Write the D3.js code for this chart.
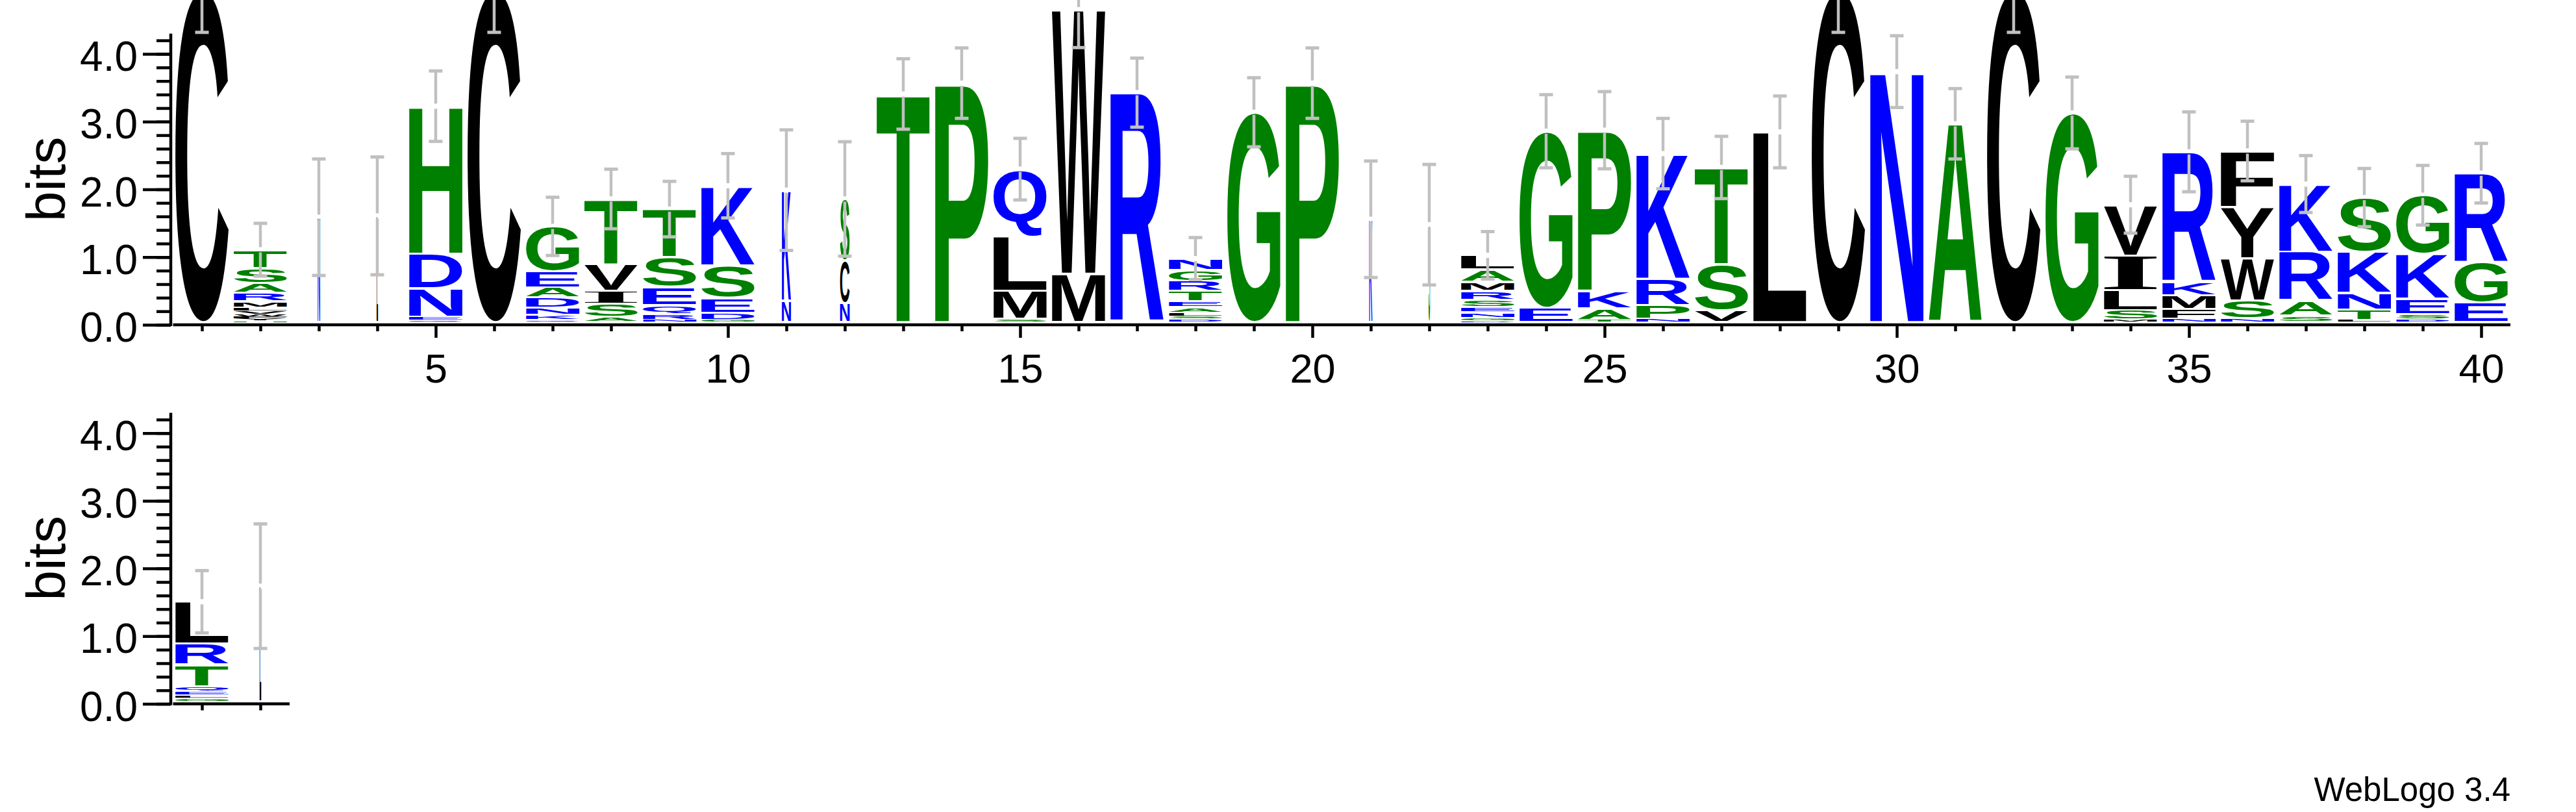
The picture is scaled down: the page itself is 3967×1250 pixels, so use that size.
<!DOCTYPE html>
<html><head><meta charset="utf-8">
<script src="https://cdn.jsdelivr.net/npm/d3@7"></script>
<style>html,body{margin:0;padding:0;background:#fff;} svg{display:block;}</style>
</head><body>
<svg id="chart" width="3967" height="1250"></svg>
<script>
// ---------------- data ----------------
const positions = d3.range(1, 43);
// stacks: letters from bottom to top, heights in bits
const stacks = [
  [["C",4.90]],
  [["H",0.02],["Y",0.03],["F",0.03],["W",0.03],["V",0.05],["L",0.055],["M",0.09],["R",0.125],["A",0.145],["S",0.225],["T",0.27]],
  [["N",1.55]],
  [["L",1.57]],
  [["Q",0.03],["E",0.05],["N",0.42],["D",0.51],["H",2.18]],
  [["C",4.90]],
  [["Q",0.03],["K",0.08],["N",0.105],["D",0.15],["A",0.15],["E",0.24],["G",0.66]],
  [["A",0.08],["S",0.19],["I",0.19],["V",0.40],["T",0.96]],
  [["N",0.03],["R",0.09],["Q",0.13],["E",0.27],["S",0.44],["T",0.71]],
  [["G",0.035],["D",0.105],["E",0.22],["S",0.48],["K",1.175]],
  [["N",0.32],["K",1.63]],
  [["N",0.28],["C",0.63],["S",0.91]],
  [["T",3.37]],
  [["P",3.53]],
  [["S",0.05],["M",0.41],["L",0.80],["Q",1.00]],
  [["M",0.715],["W",3.90]],
  [["R",3.39]],
  [["D",0.045],["S",0.045],["L",0.05],["A",0.08],["E",0.09],["T",0.15],["R",0.15],["G",0.16],["N",0.17]],
  [["G",3.10]],
  [["P",3.53]],
  [["K",1.52]],
  [["S",1.44]],
  [["D",0.02],["G",0.04],["N",0.086],["E",0.077],["S",0.11],["R",0.135],["M",0.13],["A",0.18],["L",0.21]],
  [["E",0.21],["G",2.61]],
  [["T",0.035],["A",0.17],["K",0.26],["P",2.37]],
  [["N",0.05],["P",0.20],["R",0.39],["K",1.85]],
  [["V",0.18],["S",0.68],["T",1.425]],
  [["L",2.81]],
  [["C",4.90]],
  [["N",3.70]],
  [["A",2.93]],
  [["C",4.90]],
  [["G",3.09]],
  [["M",0.035],["S",0.14],["L",0.30],["I",0.51],["V",0.75]],
  [["N",0.053],["F",0.14],["M",0.206],["K",0.197],["R",1.92]],
  [["N",0.058],["S",0.265],["W",0.62],["Y",0.76],["F",0.825]],
  [["S",0.10],["A",0.22],["R",0.72],["K",1.00]],
  [["L",0.035],["T",0.15],["N",0.245],["K",0.61],["S",0.80]],
  [["D",0.038],["S",0.077],["E",0.23],["K",0.66],["G",0.87]],
  [["E",0.29],["G",0.595],["R",1.315]],
  [["G",0.045],["L",0.045],["E",0.05],["Q",0.08],["T",0.32],["R",0.31],["L",0.62]],
  [["L",1.70]]
];
// half-length of error bar (bits), centered on stack top
const errorBits = [0.62,0.39,0.86,0.87,0.52,0.62,0.43,0.44,0.41,0.475,
                   0.89,0.845,0.52,0.52,0.455,0.56,0.51,0.31,0.51,0.52,
                   0.86,0.89,0.35,0.54,0.57,0.52,0.46,0.53,0.62,0.53,
                   0.52,0.62,0.53,0.42,0.59,0.44,0.42,0.43,0.44,0.44,
                   0.46,0.92];
// fraction of non-gap symbols (stack width scaling)
const widthFraction = [1,1,0.045,0.025,1,1,1,1,1,1,
                       0.17,0.18,1,1,1,1,1,1,1,1,
                       0.06,0.03,1,1,1,1,1,1,1,1,
                       1,1,1,1,1,1,1,1,1,1,
                       1,0.03];
const yMajorTicks = [0,1,2,3,4];
const yMinorTicks = d3.range(0, 4.21, 0.2);
const xTickLabels = [5,10,15,20,25,30,35,40];
const hydrophilic = "RKDENQ", neutral = "SGHTAP", hydrophobic = "YVMCLFIW";
const footer = "WebLogo 3.4";

// ---------------- layout ----------------
const colorOf = c => hydrophilic.includes(c) ? "#0000ff" : neutral.includes(c) ? "#008000" : "#000000";
const svg = d3.select("#chart");
svg.append("rect").attr("width",3967).attr("height",1250).attr("fill","#fff");

const panels = [
  {first:1,  last:40, y0:500,    y4:83},
  {first:41, last:42, y0:1083.5, y4:666.7}
];
const stackW = 82, axisX = 263, font = '"Liberation Sans", Arial, Helvetica, sans-serif';

const ctx = document.createElement("canvas").getContext("2d");
const inkCache = {};
function ink(ch) {
  if (inkCache[ch]) return inkCache[ch];
  const fam = ch === "I" ? '"Liberation Serif", serif' : font;
  ctx.font = `bold 200px ${fam}`;
  const m = ctx.measureText(ch);
  return inkCache[ch] = {fam, L:m.actualBoundingBoxLeft, R:m.actualBoundingBoxRight,
                         A:m.actualBoundingBoxAscent, D:m.actualBoundingBoxDescent};
}

panels.forEach(p => {
  const x = d3.scaleLinear().domain([p.first, p.first + 39]).range([311, 3821]);
  const y = d3.scaleLinear().domain([0, 4]).range([p.y0, p.y4]);
  const g = svg.append("g");
  const base = y(0) - 4;

  // letters
  const idx = d3.range(p.first, p.last + 1);
  idx.forEach(pos => {
    const i = pos - 1;
    const w = stackW * widthFraction[i];
    const x0 = x(pos) - w / 2;
    let cum = 0;
    stacks[i].forEach(([ch, bits]) => {
      const yb = base - (y(0) - y(cum));
      const yt = base - (y(0) - y(cum + bits));
      cum += bits;
      const h = yb - yt;
      const gap = Math.min(1.7, h * 0.2);
      const bh = h - 2 * gap;
      if (bh <= 0) return;
      const m = ink(ch);
      const sx = w / (m.L + m.R), sy = bh / (m.A + m.D);
      g.append("text")
        .attr("x", 0).attr("y", 0)
        .attr("font-family", m.fam).attr("font-weight", "bold").attr("font-size", 200)
        .attr("fill", colorOf(ch))
        .attr("transform", `translate(${x0},${yt + gap}) scale(${sx},${sy}) translate(${m.L},${m.A})`)
        .text(ch);
    });
    // error bar
    const top = base - (y(0) - y(cum));
    const e = y(0) - y(errorBits[i]);
    const cx = x(pos);
    const eg = g.append("g").attr("stroke", "#c0c0c0");
    eg.append("line").attr("x1",cx).attr("x2",cx).attr("y1",top - e).attr("y2",top - 4).attr("stroke-width",4.5);
    eg.append("line").attr("x1",cx).attr("x2",cx).attr("y1",top + 4).attr("y2",top + e).attr("stroke-width",4.5);
    [top - e, top + e].forEach(yy => eg.append("line").attr("x1",cx - 10.5).attr("x2",cx + 10.5)
        .attr("y1",yy).attr("y2",yy).attr("stroke-width",5));
  });

  // y axis
  const ya = svg.append("g").attr("transform", `translate(${axisX},0)`);
  ya.call(d3.axisLeft(y).tickValues(yMinorTicks).tickSize(22).tickFormat(""));
  ya.call(g2 => g2.select(".domain").remove());
  const yb2 = svg.append("g").attr("transform", `translate(${axisX},0)`);
  yb2.call(d3.axisLeft(y).tickValues(yMajorTicks).tickSize(43).tickPadding(8).tickFormat(d3.format(".1f")));
  yb2.select(".domain").remove();
  svg.selectAll("g.tick line").attr("stroke-width", 4.5).attr("stroke", "#000");
  yb2.selectAll("text").attr("font-family", font).attr("font-size", 64).attr("dy", "0.4em").attr("fill","#000");
  svg.append("line").attr("x1", axisX).attr("x2", axisX).attr("y1", y(4.3)).attr("y2", y(0) + 2)
     .attr("stroke", "#000").attr("stroke-width", 4.5);
  svg.append("text").attr("transform", `translate(100,${(y(0) + y(4.3)) / 2}) rotate(-90)`)
     .attr("text-anchor", "middle").attr("font-family", font).attr("font-size", 84).text("bits");

  // x axis
  const xEnd = x(p.last) + 45;
  svg.append("line").attr("x1", axisX + 3.5).attr("x2", xEnd).attr("y1", y(0)).attr("y2", y(0))
     .attr("stroke", "#000").attr("stroke-width", 4.5);
  const xa = svg.append("g").attr("transform", `translate(0,${y(0)})`);
  xa.call(d3.axisBottom(x).tickValues(idx.filter(d => d % 5 !== 0)).tickSize(10).tickFormat(""));
  xa.select(".domain").remove();
  const majors = xTickLabels.filter(d => d >= p.first && d <= p.last);
  const xb = svg.append("g").attr("transform", `translate(0,${y(0)})`);
  xb.call(d3.axisBottom(x).tickValues(majors).tickSize(20).tickFormat(d3.format("d")));
  xb.select(".domain").remove();
  xb.selectAll("text").attr("font-family", font).attr("font-size", 63).attr("y", 89).attr("dy", 0).attr("fill","#000");
  svg.selectAll("g.tick line").attr("stroke-width", 4.5).attr("stroke", "#000");
});

svg.append("text").attr("x", 3866).attr("y", 1233).attr("text-anchor", "end")
   .attr("font-family", font).attr("font-size", 51).text(footer);
</script>
</body></html>
